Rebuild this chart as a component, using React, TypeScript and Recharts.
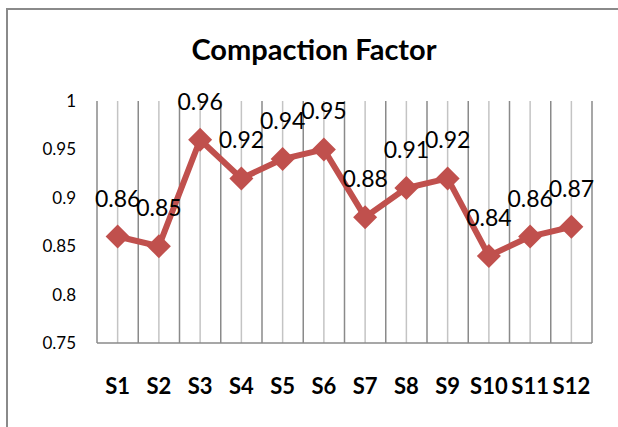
import { LineChart, Line, XAxis, YAxis, ReferenceLine, LabelList } from 'recharts';

const categories = ['S1', 'S2', 'S3', 'S4', 'S5', 'S6', 'S7', 'S8', 'S9', 'S10', 'S11', 'S12'];
const compactionFactor = [0.86, 0.85, 0.96, 0.92, 0.94, 0.95, 0.88, 0.91, 0.92, 0.84, 0.86, 0.87];
const yTicks = [0.75, 0.8, 0.85, 0.9, 0.95, 1];

const data = categories.map((name, i) => ({ pos: i + 1, name, value: compactionFactor[i] }));
const centers = data.map(d => d.pos);
const bounds = data.map(d => d.pos + 0.5);

const FONT = 'Lato, "Open Sans", sans-serif';
const RED = '#C0504D';

const Diamond = (props: any) => {
    const { cx, cy, index } = props;
    if (cx == null || cy == null) return null;
    const r = 12;
    return (
        <polygon
            key={`dot-${index}`}
            points={`${cx},${cy - r} ${cx + r},${cy} ${cx},${cy + r} ${cx - r},${cy}`}
            fill={RED}
        />
    );
};

const App = () => {
    return (
        <div style={{ position: 'fixed', left: 0, top: 0, width: 618, height: 427, background: '#fff', overflow: 'hidden', fontFamily: FONT }}>
            <div style={{ position: 'absolute', left: 0, width: 628, top: 29, textAlign: 'center', fontSize: 29, fontWeight: 700, color: '#000', lineHeight: '40px' }}>
                Compaction Factor
            </div>
            <LineChart
                width={618}
                height={427}
                data={data}
                margin={{ top: 101, right: 26, bottom: 0, left: 0 }}
                style={{ position: 'absolute', left: 0, top: 0 }}
            >
                {bounds.map(b => (
                    <ReferenceLine key={`b${b}`} x={b} stroke="#8a8a8a" strokeWidth={1.5} zIndex={-100} />
                ))}
                {centers.map(c => (
                    <ReferenceLine key={`c${c}`} x={c} stroke="#c4c4c4" strokeWidth={1.5} zIndex={-100} />
                ))}
                <XAxis
                    dataKey="pos"
                    type="number"
                    domain={[0.5, 12.5]}
                    ticks={centers}
                    tickFormatter={(v: number) => categories[v - 1]}
                    interval={0}
                    height={84}
                    axisLine={{ stroke: '#8a8a8a', strokeWidth: 1.5 }}
                    tickLine={false}
                    tickSize={0}
                    tickMargin={35}
                    tick={{ fill: '#000', fontSize: 22, fontWeight: 700, fontFamily: FONT }}
                />
                <YAxis
                    type="number"
                    domain={[0.75, 1]}
                    ticks={yTicks}
                    width={97}
                    axisLine={{ stroke: '#8a8a8a', strokeWidth: 1.5 }}
                    tickLine={false}
                    tickSize={0}
                    tickMargin={21}
                    tick={{ fill: '#000', fontSize: 17, fontFamily: FONT }}
                />
                <Line
                    type="linear"
                    dataKey="value"
                    stroke={RED}
                    strokeWidth={6}
                    dot={Diamond}
                    activeDot={false}
                    isAnimationActive={false}
                >
                    <LabelList dataKey="value" position="top" offset={30} fill="#000" fontSize={23} fontFamily={FONT} />
                </Line>
            </LineChart>
            <div style={{ position: 'absolute', left: 6, top: 8, width: 2, height: 419, background: '#8a8a8a', zIndex: 10 }} />
            <div style={{ position: 'absolute', left: 6, top: 8, width: 612, height: 2, background: '#8a8a8a', zIndex: 10 }} />
        </div>
    );
};

export default App;
